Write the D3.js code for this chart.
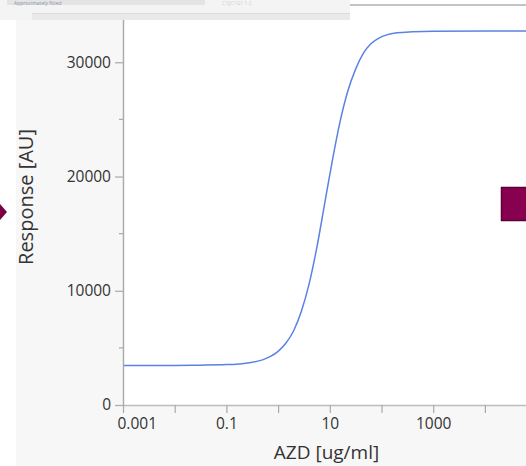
<!DOCTYPE html>
<html><head><meta charset="utf-8">
<script src="https://cdn.jsdelivr.net/npm/d3@7"></script>
<style>
html,body{margin:0;padding:0;background:#fff;}
svg{display:block;}
text{font-family:"Open Sans","Noto Sans",sans-serif;}
</style></head>
<body>
<svg id="c" width="526" height="466"></svg>
<script>
// ---- data ----
const concentrations = [0.001, 0.01, 0.03, 0.1, 0.2, 0.316, 0.5, 0.71, 1, 1.41, 2, 2.82, 3.98, 5.62, 7.94, 11.2, 15.8, 22.4, 31.6, 44.7, 63.1, 89.1, 126, 200, 398, 1000, 100000];
const responses      = [3450, 3460, 3490, 3540, 3620, 3740, 3950, 4250, 4700, 5400, 6500, 8200, 10600, 13800, 17600, 21400, 24800, 27500, 29400, 30800, 31650, 32120, 32400, 32580, 32670, 32720, 32730];
const xTickValues = [0.001, 0.01, 0.1, 1, 10, 100, 1000, 10000, 100000];
const xTickLabels = ["0.001", "", "0.1", "", "10", "", "1000", "", ""];
const yMajorTicks = [0, 10000, 20000, 30000];
const yMinorTicks = [5000, 15000, 25000];
const xTitle = "AZD [ug/ml]";
const yTitle = "Response [AU]";

const svg = d3.select("#c");
const W = 526, H = 466;
const L = 123, R = 526, T = 20, B = 405;

// ---- surrounding UI chrome ----
svg.append("rect").attr("x",0).attr("y",0).attr("width",W).attr("height",H).attr("fill","#ffffff");
svg.append("rect").attr("x",0).attr("y",0).attr("width",350).attr("height",20).attr("fill","#f4f4f4");
svg.append("rect").attr("x",7).attr("y",0).attr("width",198).attr("height",5).attr("fill","#e4e4e4");
svg.append("text").attr("x",14).attr("y",4.5).attr("font-size",5).attr("fill","#8a93a6").text("Approximately fitted");
svg.append("text").attr("x",222).attr("y",4.5).attr("font-size",5).attr("fill","#cfcfcf").text("C1JJC1G1 1 C");
svg.append("rect").attr("x",32).attr("y",13).attr("width",318).attr("height",7).attr("fill","#e9e9e9");
svg.append("line").attr("x1",32).attr("x2",350).attr("y1",13.5).attr("y2",13.5).attr("stroke","#dcdcdc");
svg.append("rect").attr("x",350).attr("y",4).attr("width",176).attr("height",2).attr("fill","#c4c4c4");
svg.append("rect").attr("x",16).attr("y",T).attr("width",W-16).attr("height",H-T).attr("fill","#f7f7f7");
svg.append("rect").attr("x",L).attr("y",T).attr("width",R-L).attr("height",B-T).attr("fill","#ffffff");

// ---- scales ----
const x = d3.scaleLog().domain([0.001, 100000]).range([L, L + 8*51.7]);
const y = d3.scaleLinear().domain([0, 33700]).range([B, T]);

svg.append("clipPath").attr("id","clip").append("rect")
  .attr("x",L).attr("y",T-2).attr("width",R-L).attr("height",B-T+2);

// ---- curve ----
const pts = concentrations.map((c,i)=>[c, responses[i]]);
const line = d3.line().x(d=>x(d[0])).y(d=>y(d[1])).curve(d3.curveMonotoneX);
svg.append("path").attr("clip-path","url(#clip)")
  .attr("d", line(pts)).attr("fill","none")
  .attr("stroke","#5a82e4").attr("stroke-width",1.5);

// ---- axes ----
const axisColor = "#a9a9a9";
const xAxis = d3.axisBottom(x).tickValues(xTickValues)
  .tickFormat((d,i)=>xTickLabels[i]).tickSize(8).tickSizeOuter(0).tickPadding(5);
const gx = svg.append("g").attr("transform",`translate(0,${B})`).call(xAxis);
gx.select(".domain").attr("d",`M${L},0.5H${R}`).attr("stroke","#bdbdbd").attr("stroke-width",1.6);
gx.selectAll(".tick line").attr("stroke",axisColor).attr("stroke-width",1.2);
gx.selectAll(".tick text").attr("font-size",15.5).attr("fill","#333");
gx.selectAll(".tick").filter(d=>d===0.001).select("text").attr("text-anchor","start").attr("dx",-6);

const yAxis = d3.axisLeft(y).tickValues(yMajorTicks).tickFormat(d3.format("d"))
  .tickSize(8).tickSizeOuter(0).tickPadding(4);
const gy = svg.append("g").attr("transform",`translate(${L},0)`).call(yAxis);
gy.select(".domain").attr("d",`M0.5,${T}V${B+1}`).attr("stroke",axisColor).attr("stroke-width",1.4);
gy.selectAll(".tick line").attr("stroke",axisColor).attr("stroke-width",1.2);
gy.selectAll(".tick text").attr("font-size",15.5).attr("fill","#333");
gy.selectAll(".minor").data(yMinorTicks).enter().append("line").attr("class","minor")
  .attr("x1",-4).attr("x2",0).attr("y1",d=>y(d)).attr("y2",d=>y(d))
  .attr("stroke",axisColor).attr("stroke-width",1.2);

// ---- titles ----
svg.append("text").attr("x",(L+R)/2 + 2).attr("y",459).attr("text-anchor","middle")
  .attr("font-size",19).attr("fill","#333").text(xTitle);
svg.append("text").attr("transform",`translate(33,197) rotate(-90)`).attr("text-anchor","middle")
  .attr("font-size",20).attr("fill","#333").text(yTitle);

// ---- side markers ----
svg.append("path").attr("d","M0,204L7,212L0,220Z").attr("fill","#7a0046");
svg.append("rect").attr("x",501.5).attr("y",187.5).attr("width",30).attr("height",33)
  .attr("fill","#880050").attr("stroke","#5e0036").attr("stroke-width",1.5);
</script>
</body></html>
